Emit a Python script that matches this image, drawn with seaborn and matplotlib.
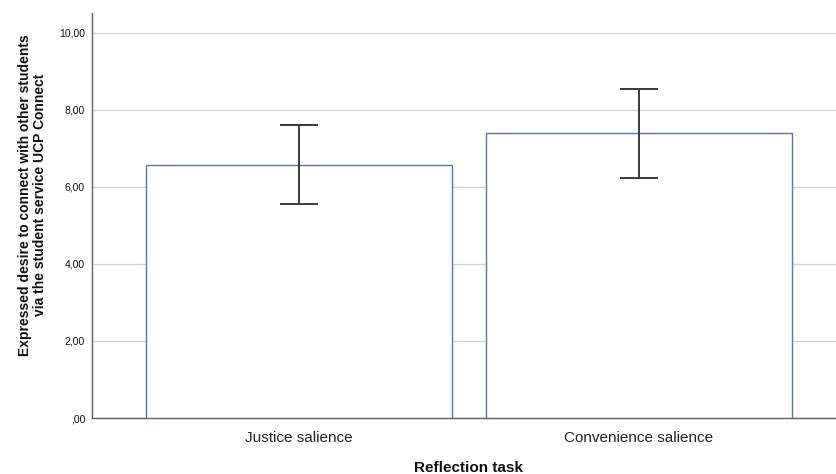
import matplotlib
matplotlib.use("Agg")
import matplotlib.pyplot as plt
import seaborn as sns
import pandas as pd

# Group means with 95% confidence limits
groups = ["Justice salience", "Convenience salience"]
means = [6.57, 7.39]
ci_low = [5.54, 6.23]
ci_high = [7.60, 8.54]
y_ticks = [0, 2, 4, 6, 8, 10]

df = pd.DataFrame({"task": groups, "mean": means})

sns.set_theme(style="white")
plt.rcParams["font.family"] = ["Liberation Sans", "DejaVu Sans"]

fig = plt.figure(figsize=(8.37, 4.74), dpi=100)
ax = fig.add_axes([92 / 837, 56 / 474, 754 / 837, 405.5 / 474])

sns.barplot(data=df, x="task", y="mean", ax=ax, width=0.9,
            color="white", edgecolor="#5872c4", linewidth=1.0,
            errorbar=None, zorder=3)

yerr = [[m - lo for m, lo in zip(means, ci_low)],
        [hi - m for m, hi in zip(means, ci_high)]]
ax.errorbar(x=range(len(groups)), y=means, yerr=yerr, fmt="none",
            ecolor="#3a3a3a", elinewidth=1.4, capsize=13.7, capthick=1.4,
            zorder=4)


def comma_label(v):
    s = f"{v:.2f}".replace(".", ",")
    return s.lstrip("0") if v == 0 else s


ax.set_xlim(-0.61, 1.61)
ax.set_ylim(0, 10.52)
ax.set_yticks(y_ticks)
ax.set_yticklabels([comma_label(v) for v in y_ticks])
ax.yaxis.grid(True, color="#d4d4d4", linewidth=1.0, zorder=0)
ax.xaxis.grid(False)
ax.set_axisbelow(True)

for side in ("top", "right"):
    ax.spines[side].set_visible(False)
for side in ("left", "bottom"):
    ax.spines[side].set_color("#606060")
    ax.spines[side].set_linewidth(1.0)

ax.tick_params(axis="y", length=0, pad=5, labelsize=7.5, labelcolor="#111111")
ax.tick_params(axis="x", length=0, pad=9, labelsize=11, labelcolor="#222222")

ax.set_xlabel("Reflection task", fontsize=11, fontweight="bold", labelpad=12,
              color="#111111")
ax.set_ylabel("Expressed desire to connect with other students\n"
              "via the student service UCP Connect",
              fontsize=10, fontweight="bold", color="#111111",
              linespacing=1.05)
ax.yaxis.set_label_coords(-0.060, 0.55)

fig.savefig("out.png", dpi=100)
